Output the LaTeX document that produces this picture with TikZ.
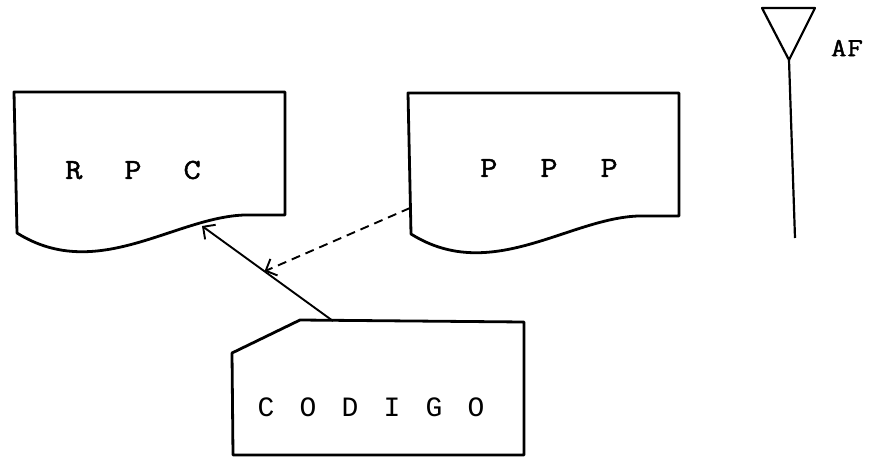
\documentclass[tikz,border=0pt]{standalone}
\usepackage{fontspec}
\newfontfamily\typefont{Latin Modern Mono}[FakeBold=1.6,FakeStretch=1.15]
\newfontfamily\cardfont{Liberation Mono}
\usetikzlibrary{arrows.meta,calc}
\begin{document}
\begin{tikzpicture}[x=1pt,y=-1pt,
  outline/.style={line width=2.8pt, line join=round},
  link/.style={line width=1.9pt, -{Straight Barb[length=9pt,width=18pt,line width=1.9pt]}},
  dashlink/.style={link, dash pattern=on 9pt off 6pt},
  mast/.style={line width=2.2pt, line join=round},
  label/.style={font=\typefont\fontsize{29}{29}\selectfont, inner sep=0pt, anchor=center},
  cardlabel/.style={font=\cardfont\fontsize{28}{28}\selectfont, inner sep=0pt, anchor=center},
  pics/sheet/.style={code={
    \draw[outline] (0,0) -- (271,0) -- (271,123) -- (239,123)
      .. controls (166,120) and (86,193) .. (3,141) -- cycle;
  }}
]
\useasboundingbox (0,0) rectangle (870,458);

% document sheets
\pic at (14,92) {sheet};
\pic at (408,93) {sheet};
\node[label] (rpc) at (133,170) {\spaceskip=42pt R P C};
\node[label] (ppp) at (549,168) {\spaceskip=43pt P P P};

% punched card
\draw[outline] (232,353) -- (300,320) -- (524,322) -- (524,455)
  -- (233,455) -- cycle;
\node[cardlabel] (codigo) at (371,407) {\spaceskip=25.2pt C O D I G O};

% connection points
\coordinate (cardtop) at (333,321);
\coordinate (rpcedge) at (202,226);
\coordinate (pppedge) at (410,208);
\coordinate (join) at ($(cardtop)!0.523!(rpcedge)$);

\draw[link] (cardtop) -- (rpcedge);
\draw[dashlink] (pppedge) -- (join);

% antenna
\coordinate (apex) at (789,60);
\coordinate (foot) at (795,238);
\draw[mast] (762,8) -- (815,8) -- (apex) -- cycle;
\draw[mast] (apex) -- (foot);
\node[font=\typefont\fontsize{26}{26}\selectfont, inner sep=0pt] (af) at (847,48) {A\kern1pt F};
\end{tikzpicture}
\end{document}
